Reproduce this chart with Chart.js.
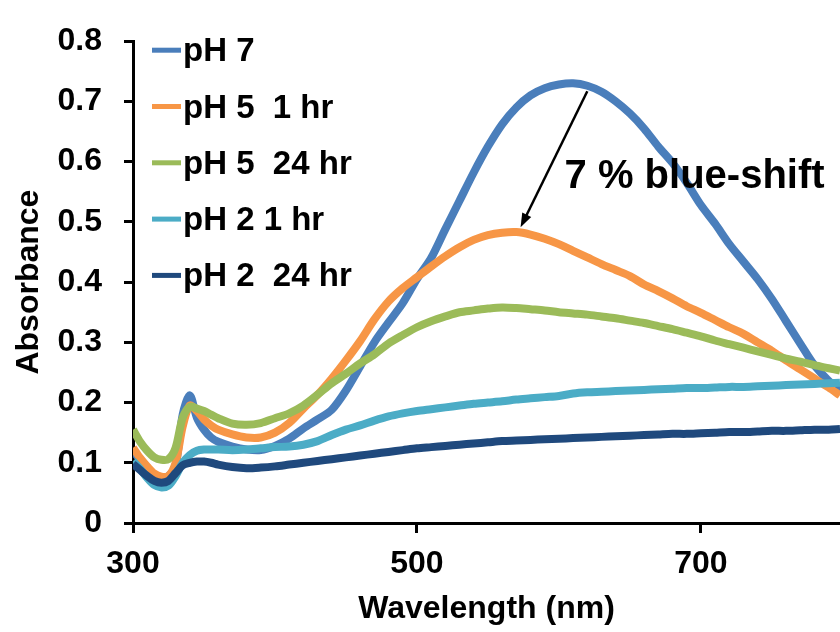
<!DOCTYPE html>
<html>
<head>
<meta charset="utf-8">
<script src="https://cdn.jsdelivr.net/npm/chart.js@4.4.1/dist/chart.umd.min.js"></script>
<style>
  body { margin: 0; background: #fff; }
  #wrap { width: 840px; height: 632px; }
</style>
</head>
<body>
<div id="wrap"><canvas id="chart" width="840" height="632"></canvas></div>
<script>
// wavelengths (nm) shared by all spectra
const wavelengths = [300, 305, 310, 315, 320, 325, 330, 335, 340, 345, 350, 355, 360, 370, 380, 390, 400, 410, 420, 430,
    440, 450, 460, 470, 480, 490, 500, 510, 520, 530, 540, 550, 560, 570, 580, 590, 600, 610, 620, 630,
    640, 650, 660, 670, 680, 690, 700, 710, 720, 730, 740, 750, 760, 770, 780, 790, 798];

const seriesLabels = ['pH 7', 'pH 5  1 hr', 'pH 5  24 hr', 'pH 2 1 hr', 'pH 2  24 hr'];

const ph7 = [0.120, 0.105, 0.090, 0.079, 0.074, 0.078, 0.095, 0.180, 0.212, 0.175, 0.155, 0.142, 0.135, 0.127, 0.122, 0.121, 0.128, 0.140, 0.157, 0.172,
    0.188, 0.220, 0.260, 0.300, 0.333, 0.365, 0.405, 0.440, 0.488, 0.535, 0.582, 0.625, 0.662, 0.690, 0.710, 0.722, 0.728, 0.730, 0.726, 0.716,
    0.700, 0.680, 0.655, 0.625, 0.598, 0.565, 0.528, 0.497, 0.463, 0.434, 0.405, 0.372, 0.335, 0.298, 0.262, 0.236, 0.218];

const ph5_1h = [0.125, 0.108, 0.094, 0.082, 0.077, 0.078, 0.100, 0.160, 0.195, 0.186, 0.172, 0.162, 0.155, 0.147, 0.142, 0.142, 0.150, 0.166, 0.190, 0.213,
    0.240, 0.270, 0.302, 0.338, 0.368, 0.390, 0.408, 0.426, 0.443, 0.458, 0.470, 0.478, 0.482, 0.483, 0.479, 0.472, 0.463, 0.452, 0.441, 0.430,
    0.420, 0.410, 0.396, 0.385, 0.373, 0.360, 0.349, 0.337, 0.325, 0.314, 0.300, 0.286, 0.270, 0.255, 0.240, 0.225, 0.212];

const ph5_24h = [0.155, 0.135, 0.120, 0.109, 0.105, 0.106, 0.125, 0.175, 0.193, 0.190, 0.186, 0.180, 0.174, 0.165, 0.163, 0.166, 0.174, 0.182, 0.195, 0.213,
    0.232, 0.248, 0.265, 0.280, 0.298, 0.312, 0.325, 0.335, 0.343, 0.350, 0.353, 0.356, 0.358, 0.357, 0.355, 0.353, 0.350, 0.348, 0.346, 0.343,
    0.340, 0.336, 0.332, 0.327, 0.322, 0.316, 0.310, 0.303, 0.297, 0.291, 0.285, 0.279, 0.273, 0.268, 0.262, 0.257, 0.253];

const ph2_1h = [0.103, 0.090, 0.075, 0.063, 0.059, 0.062, 0.078, 0.100, 0.113, 0.120, 0.122, 0.122, 0.122, 0.121, 0.122, 0.124, 0.126, 0.127, 0.130, 0.136,
    0.146, 0.155, 0.162, 0.170, 0.177, 0.182, 0.186, 0.189, 0.192, 0.195, 0.198, 0.200, 0.202, 0.205, 0.207, 0.209, 0.211, 0.215, 0.217, 0.218,
    0.219, 0.220, 0.221, 0.222, 0.223, 0.224, 0.224, 0.225, 0.226, 0.226, 0.227, 0.228, 0.229, 0.230, 0.231, 0.232, 0.233];

const ph2_24h = [0.098, 0.088, 0.078, 0.070, 0.067, 0.070, 0.083, 0.096, 0.100, 0.102, 0.102, 0.100, 0.097, 0.093, 0.091, 0.092, 0.094, 0.097, 0.100, 0.103,
    0.106, 0.109, 0.112, 0.115, 0.118, 0.121, 0.124, 0.126, 0.128, 0.130, 0.132, 0.134, 0.136, 0.137, 0.138, 0.139, 0.140, 0.141, 0.142, 0.143,
    0.144, 0.145, 0.146, 0.147, 0.148, 0.148, 0.149, 0.150, 0.151, 0.151, 0.152, 0.153, 0.153, 0.154, 0.155, 0.155, 0.156];

const xTicks = [300, 500, 700];

// annotation: arrow from pH 7 peak to pH 5 peak (nm, absorbance)
const arrowFrom = [620, 0.717];
const arrowTo = [573, 0.491];
const shiftText = '7 % blue-shift';
const shiftTextAt = [604, 0.557];

const colors = ['#4a7ebb', '#f79646', '#9bbb59', '#4bacc6', '#1f497d'];
const FONT = '"Liberation Sans", Arial, sans-serif';

document.addEventListener('DOMContentLoaded', () => {
    const allSeries = [ph7, ph5_1h, ph5_24h, ph2_1h, ph2_24h];

    const datasets = allSeries.map((values, i) => ({
        label: seriesLabels[i],
        data: values.map((v, j) => ({ x: wavelengths[j], y: v })),
        borderColor: colors[i],
        backgroundColor: colors[i],
        borderWidth: 8,
        pointRadius: 0,
        tension: 0.3,
        order: allSeries.length - i, // later series on top, like the original
    }));

    // legend, arrow and label drawn over the plot
    const overlay = {
        id: 'overlay',
        afterDraw(chart) {
            const { ctx, chartArea, scales } = chart;
            ctx.save();

            // legend
            ctx.font = `bold 33px ${FONT}`;
            ctx.textBaseline = 'middle';
            ctx.textAlign = 'left';
            seriesLabels.forEach((label, i) => {
                const y = chartArea.top + 9 + i * 56.3;
                ctx.fillStyle = colors[i];
                ctx.fillRect(chartArea.left + 19, y - 2.5, 29, 5);
                ctx.fillStyle = '#000';
                ctx.fillText(label, chartArea.left + 50, y + 2);
            });

            // arrow
            const x1 = scales.x.getPixelForValue(arrowFrom[0]);
            const y1 = scales.y.getPixelForValue(arrowFrom[1]);
            const x2 = scales.x.getPixelForValue(arrowTo[0]);
            const y2 = scales.y.getPixelForValue(arrowTo[1]);
            const ang = Math.atan2(y2 - y1, x2 - x1);
            const head = 14;
            ctx.strokeStyle = '#000';
            ctx.lineWidth = 2.5;
            ctx.beginPath();
            ctx.moveTo(x1, y1);
            ctx.lineTo(x2 - Math.cos(ang) * head * 0.8, y2 - Math.sin(ang) * head * 0.8);
            ctx.stroke();
            ctx.fillStyle = '#000';
            ctx.beginPath();
            ctx.moveTo(x2, y2);
            ctx.lineTo(x2 - head * Math.cos(ang) + 5 * Math.sin(ang), y2 - head * Math.sin(ang) - 5 * Math.cos(ang));
            ctx.lineTo(x2 - head * Math.cos(ang) - 5 * Math.sin(ang), y2 - head * Math.sin(ang) + 5 * Math.cos(ang));
            ctx.closePath();
            ctx.fill();

            // label
            ctx.font = `bold 40px ${FONT}`;
            ctx.textBaseline = 'alphabetic';
            ctx.fillText(shiftText, scales.x.getPixelForValue(shiftTextAt[0]), scales.y.getPixelForValue(shiftTextAt[1]));

            ctx.restore();
        }
    };

    const ctx = document.getElementById('chart').getContext('2d');
    new Chart(ctx, {
        type: 'line',
        data: { datasets },
        options: {
            responsive: false,
            animation: false,
            layout: { padding: { top: 32, right: 0, left: 0, bottom: 0 } },
            plugins: { legend: { display: false }, tooltip: { enabled: false } },
            scales: {
                x: {
                    type: 'linear',
                    min: 300,
                    max: 798,
                    afterBuildTicks: (scale) => { scale.ticks = xTicks.map(v => ({ value: v })); },
                    afterFit: (scale) => { scale.height = 109; },
                    border: { color: '#000', width: 3 },
                    grid: { drawOnChartArea: false, drawTicks: true, tickLength: 10, color: '#000', lineWidth: 3 },
                    ticks: {
                        color: '#000',
                        padding: 12,
                        maxRotation: 0,
                        font: { family: FONT, size: 32, weight: 'bold' },
                    },
                    title: {
                        display: true,
                        text: 'Wavelength (nm)',
                        color: '#000',
                        padding: { top: 0, bottom: 4 },
                        font: { family: FONT, size: 32, weight: 'bold' },
                    },
                },
                y: {
                    min: 0,
                    max: 0.8,
                    afterFit: (scale) => { scale.width = 133; },
                    border: { color: '#000', width: 3 },
                    grid: { drawOnChartArea: false, drawTicks: true, tickLength: 9, color: '#000', lineWidth: 3 },
                    ticks: {
                        stepSize: 0.1,
                        color: '#000',
                        padding: 22,
                        font: { family: FONT, size: 32, weight: 'bold' },
                        callback: (v) => String(+v.toFixed(1)),
                    },
                    title: {
                        display: true,
                        text: 'Absorbance',
                        color: '#000',
                        padding: { top: 10, bottom: 0 },
                        font: { family: FONT, size: 32, weight: 'bold' },
                    },
                },
            },
        },
        plugins: [overlay],
    });
});
</script>
</body>
</html>
